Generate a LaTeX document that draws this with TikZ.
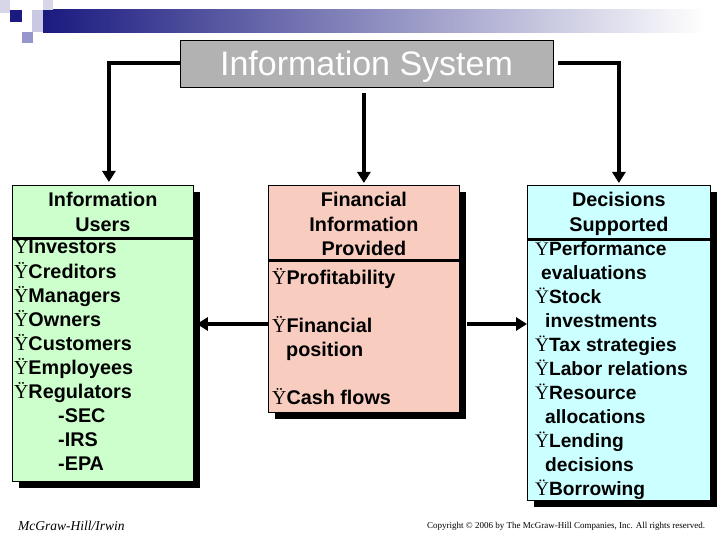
\documentclass[tikz,border=0pt]{standalone}
\usepackage{fontspec}
\setmainfont{Liberation Sans}
\newfontfamily\serifface{Liberation Serif}
\usetikzlibrary{arrows.meta,calc,positioning,shadows}

\definecolor{usergreen}{RGB}{204,255,204}
\definecolor{finsalmon}{RGB}{248,204,190}
\definecolor{deccyan}{RGB}{204,255,255}
\definecolor{titlegray}{RGB}{178,178,178}
\definecolor{barnavy}{RGB}{26,26,128}
\definecolor{lightlav}{RGB}{214,214,232}
\definecolor{periwinkle}{RGB}{150,150,205}

\newcommand{\itm}{{\serifface\mdseries Ÿ}}

\begin{document}
\begin{tikzpicture}[x=1pt,y=-1pt,
  box/.style={draw=black,line width=0.8pt,anchor=north west,inner sep=0pt,
    drop shadow={shadow xshift=7pt,shadow yshift=-7pt,fill=black,opacity=1}},
  titlebox/.style={draw=black,line width=0.8pt,fill=titlegray,text=white,inner sep=0pt,
    minimum width=373pt,minimum height=47pt,font=\fontsize{34}{40}\selectfont,
    text height=24.5pt,text depth=0pt},
  txt/.style={font=\fontsize{19.8}{24}\selectfont\bfseries,inner sep=0pt},
  dtxt/.style={font=\fontsize{19.2}{24}\selectfont\bfseries,inner sep=0pt},
  arr/.style={line width=4pt,-{Triangle[width=13pt,length=11pt]}},
  divider/.style={line width=3pt},
  footer/.style={font=\serifface\fontsize{9}{11}\selectfont,inner sep=0pt}]
  \useasboundingbox (0,0) rectangle (720,540);

  % slide decoration
  \shade[left color=barnavy,right color=white] (43,10) rectangle (705,33);
  \fill[lightlav] (0,0) rectangle (10,13);
  \fill[lightlav] (43,0) rectangle (53,10);
  \fill[barnavy] (10,10) rectangle (22,22);
  \fill[lightlav!80!periwinkle] (32,10) rectangle (43,32);
  \fill[periwinkle] (22,32) rectangle (33,43);

  % title and the three boxes
  \node[titlebox] (infosys) at (366.5,63.5) {Information System};
  \node[box,fill=usergreen,minimum width=181pt,minimum height=296pt] (users) at (12,185) {};
  \node[box,fill=finsalmon,minimum width=191pt,minimum height=227pt] (fin) at (268,185) {};
  \node[box,fill=deccyan,minimum width=183pt,minimum height=315pt] (dec) at (527,185) {};

  \draw[divider] ($(users.north west)+(0,53)$) -- ($(users.north east)+(0,53)$);
  \draw[divider] ($(fin.north west)+(0,75)$) -- ($(fin.north east)+(0,75)$);
  \draw[divider] ($(dec.north west)+(0,54)$) -- ($(dec.north east)+(0,54)$);

  % users
  \foreach \t [count=\i] in {Information,Users}
    \node[txt,anchor=base] (users-h\i) at ($(users.north)+(0,24*\i-2)$) {\t};
  \foreach \t [count=\i] in {\itm Investors,\itm Creditors,\itm Managers,\itm Owners,
      \itm Customers,\itm Employees,\itm Regulators,
      \hspace*{44pt}-SEC,\hspace*{44pt}-IRS,\hspace*{44pt}-EPA}
    \node[txt,anchor=base west] (users-l\i) at ($(users.north west)+(2,24*\i+45)$) {\t};

  % financial information
  \foreach \t [count=\i] in {Financial,Information,Provided}
    \node[txt,anchor=base] (fin-h\i) at ($(fin.north)+(0,24*\i-2)$) {\t};
  \foreach \t/\r in {\itm Profitability/1,\itm Financial/3,\hspace*{14pt}position/4,\itm Cash flows/6}
    \node[txt,anchor=base west] (fin-l\r) at ($(fin.north west)+(4,24*\r+75)$) {\t};

  % decisions
  \foreach \t [count=\i] in {Decisions,Supported}
    \node[txt,anchor=base] (dec-h\i) at ($(dec.north)+(0,24*\i-2)$) {\t};
  \foreach \t [count=\i] in {\itm Performance,\hspace*{6pt}evaluations,\itm Stock,
      \hspace*{10pt}investments,\itm Tax strategies,\itm Labor relations,\itm Resource,
      \hspace*{10pt}allocations,\itm Lending,\hspace*{10pt}decisions,\itm Borrowing}
    \node[dtxt,anchor=base west] (dec-l\i) at ($(dec.north west)+(8,24*\i+46)$) {\t};

  % connectors
  \coordinate (midrow) at (0,324);
  \draw[arr,shorten >=3pt] (infosys.west) -| ([xshift=6pt]users.north);
  \draw[arr,shorten <=6pt,shorten >=2pt] (infosys.south -| fin.north) -- (fin.north);
  \draw[arr,shorten <=5pt,shorten >=2pt] (infosys.east) -| (dec.north);
  \draw[arr,shorten >=3pt] (fin.west |- midrow) -- (users.east |- midrow);
  \draw[arr,shorten <=7pt] (fin.east |- midrow) -- (dec.west |- midrow);

  % footer
  \node[footer,font=\serifface\itshape\fontsize{13.5}{15}\selectfont,anchor=base west] (publisher) at (18,530) {McGraw-Hill/Irwin};
  \node[footer,anchor=base west] (copyright) at (427,528) {Copyright © 2006 by The McGraw-Hill Companies, Inc. All rights reserved.};
\end{tikzpicture}
\end{document}
